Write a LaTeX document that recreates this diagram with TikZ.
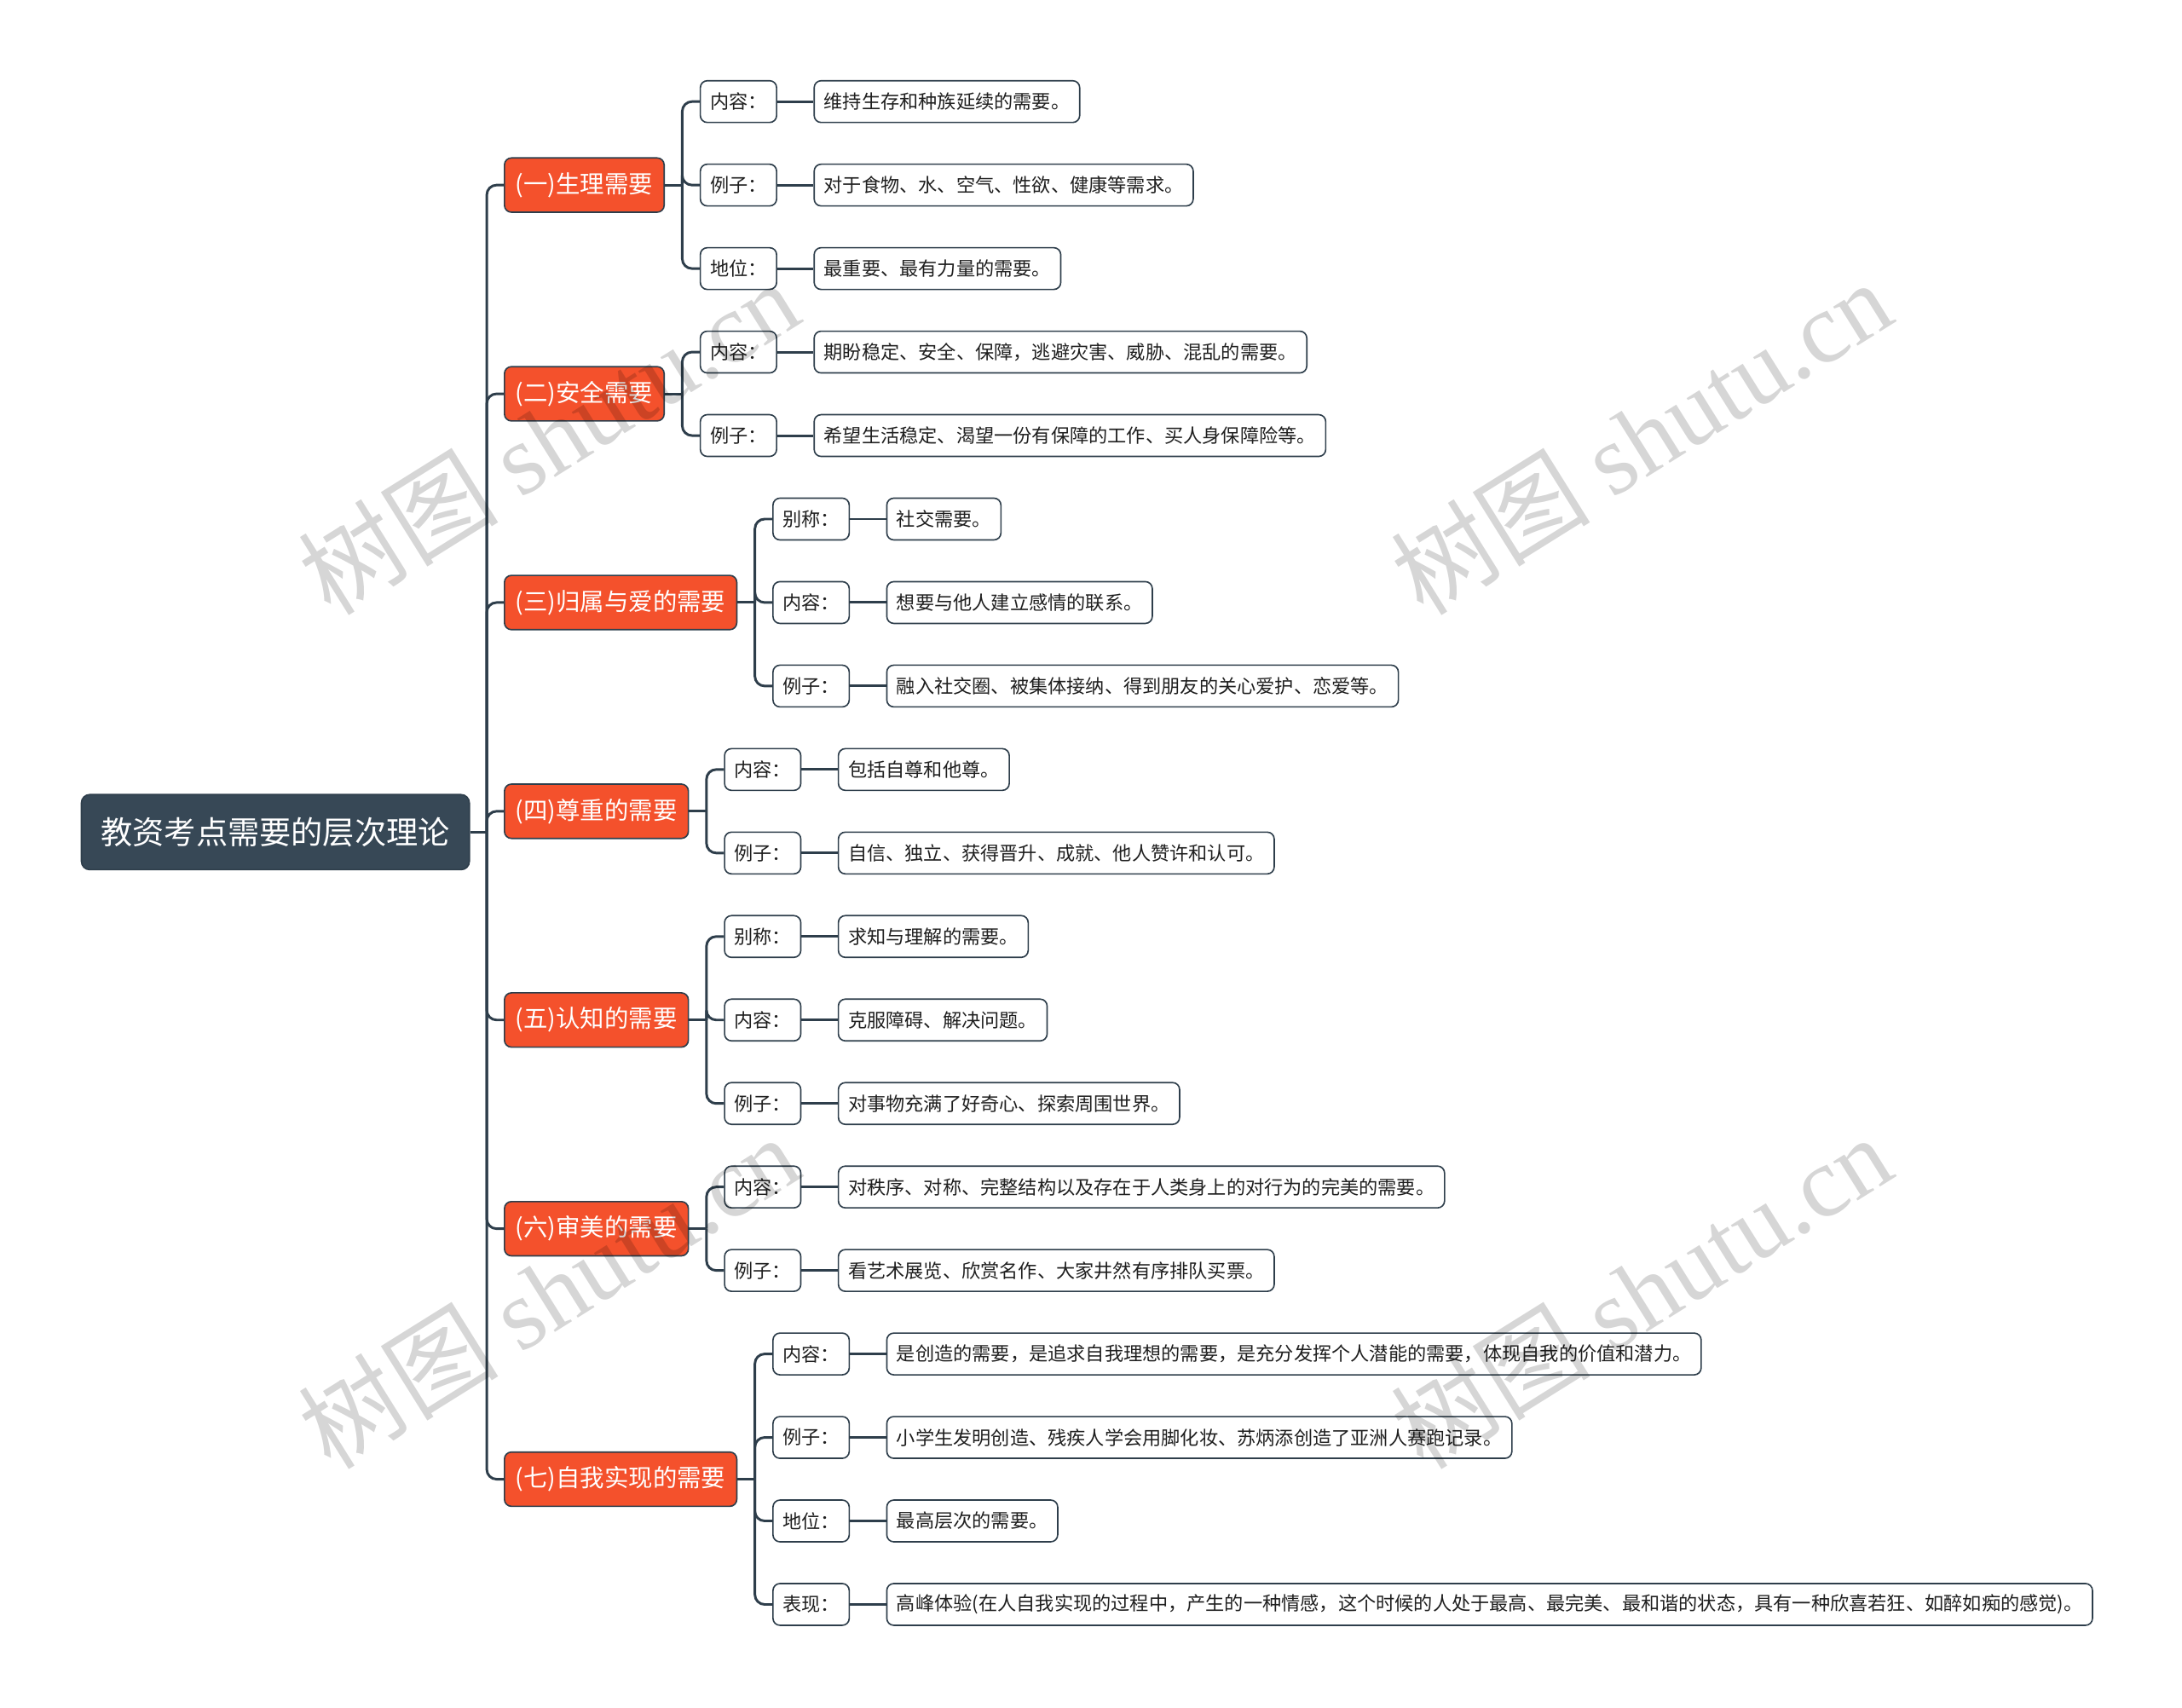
\documentclass[tikz,border=0pt]{standalone}
\usepackage{fontspec}
\setmainfont{Noto Sans CJK SC}
\newfontfamily\wmlatin{Liberation Serif}
\usetikzlibrary{calc}
\definecolor{orangeA}{HTML}{F4512C}
\definecolor{rootA}{HTML}{374856}
\definecolor{lineA}{HTML}{2E3E4B}
\tikzset{
  rootbox/.style={draw=lineA, fill=rootA, rounded corners=6, text=white, font=\fontsize{22.8}{26}\selectfont, minimum height=54, inner xsep=14, anchor=west, line width=1},
  lvone/.style={draw=lineA, fill=orangeA, rounded corners=5, text=white, font=\fontsize{17.4}{20}\selectfont, minimum height=39, inner xsep=8, anchor=west, line width=1},
  lbl/.style={draw=lineA, fill=white, rounded corners=5, text=black!88, font=\fontsize{13.6}{16}\selectfont, minimum height=30, inner xsep=7, anchor=west, line width=1},
  conn/.style={draw=lineA, line width=1.8},
  elbow/.style={conn, rounded corners=7},
  wmark/.style={rotate=32, text=black, text opacity=0.16, font=\fontsize{72}{76}\selectfont},
}
\begin{document}
\begin{tikzpicture}[x=1pt,y=-1pt]
\useasboundingbox (0,0) rectangle (1568,1227);
% root
\node[rootbox] (root) at (58,598) {教资考点需要的层次理论};
\coordinate (trunk) at ($(root.east)+(12,0)$);
% level one
\node[lvone] (g1) at (362,133) {(一)生理需要};
\node[lvone] (g2) at (362,283) {(二)安全需要};
\node[lvone] (g3) at (362,433) {(三)归属与爱的需要};
\node[lvone] (g4) at (362,583) {(四)尊重的需要};
\node[lvone] (g5) at (362,733) {(五)认知的需要};
\node[lvone] (g6) at (362,883) {(六)审美的需要};
\node[lvone] (g7) at (362,1063) {(七)自我实现的需要};
\draw[conn] (root.east) -- (trunk);
\foreach \g in {g1,g2,g3,g4,g5,g6,g7}{\draw[elbow] (trunk) |- (\g.west);}
% group 1
\node[lbl] (l11) at ($(g1.east)+(25,-60)$) {内容：};
\node[lbl] (l12) at ($(g1.east)+(25,0)$) {例子：};
\node[lbl] (l13) at ($(g1.east)+(25,60)$) {地位：};
\node[lbl] (v11) at ($(l11.east)+(26,0)$) {维持生存和种族延续的需要。};
\node[lbl] (v12) at ($(l12.east)+(26,0)$) {对于食物、水、空气、性欲、健康等需求。};
\node[lbl] (v13) at ($(l13.east)+(26,0)$) {最重要、最有力量的需要。};
% group 2
\node[lbl] (l21) at ($(g2.east)+(25,-30)$) {内容：};
\node[lbl] (l22) at ($(g2.east)+(25,30)$) {例子：};
\node[lbl] (v21) at ($(l21.east)+(26,0)$) {期盼稳定、安全、保障，逃避灾害、威胁、混乱的需要。};
\node[lbl] (v22) at ($(l22.east)+(26,0)$) {希望生活稳定、渴望一份有保障的工作、买人身保障险等。};
% group 3
\node[lbl] (l31) at ($(g3.east)+(25,-60)$) {别称：};
\node[lbl] (l32) at ($(g3.east)+(25,0)$) {内容：};
\node[lbl] (l33) at ($(g3.east)+(25,60)$) {例子：};
\node[lbl] (v31) at ($(l31.east)+(26,0)$) {社交需要。};
\node[lbl] (v32) at ($(l32.east)+(26,0)$) {想要与他人建立感情的联系。};
\node[lbl] (v33) at ($(l33.east)+(26,0)$) {融入社交圈、被集体接纳、得到朋友的关心爱护、恋爱等。};
% group 4
\node[lbl] (l41) at ($(g4.east)+(25,-30)$) {内容：};
\node[lbl] (l42) at ($(g4.east)+(25,30)$) {例子：};
\node[lbl] (v41) at ($(l41.east)+(26,0)$) {包括自尊和他尊。};
\node[lbl] (v42) at ($(l42.east)+(26,0)$) {自信、独立、获得晋升、成就、他人赞许和认可。};
% group 5
\node[lbl] (l51) at ($(g5.east)+(25,-60)$) {别称：};
\node[lbl] (l52) at ($(g5.east)+(25,0)$) {内容：};
\node[lbl] (l53) at ($(g5.east)+(25,60)$) {例子：};
\node[lbl] (v51) at ($(l51.east)+(26,0)$) {求知与理解的需要。};
\node[lbl] (v52) at ($(l52.east)+(26,0)$) {克服障碍、解决问题。};
\node[lbl] (v53) at ($(l53.east)+(26,0)$) {对事物充满了好奇心、探索周围世界。};
% group 6
\node[lbl] (l61) at ($(g6.east)+(25,-30)$) {内容：};
\node[lbl] (l62) at ($(g6.east)+(25,30)$) {例子：};
\node[lbl] (v61) at ($(l61.east)+(26,0)$) {对秩序、对称、完整结构以及存在于人类身上的对行为的完美的需要。};
\node[lbl] (v62) at ($(l62.east)+(26,0)$) {看艺术展览、欣赏名作、大家井然有序排队买票。};
% group 7
\node[lbl] (l71) at ($(g7.east)+(25,-90)$) {内容：};
\node[lbl] (l72) at ($(g7.east)+(25,-30)$) {例子：};
\node[lbl] (l73) at ($(g7.east)+(25,30)$) {地位：};
\node[lbl] (l74) at ($(g7.east)+(25,90)$) {表现：};
\node[lbl] (v71) at ($(l71.east)+(26,0)$) {是创造的需要，是追求自我理想的需要，是充分发挥个人潜能的需要，体现自我的价值和潜力。};
\node[lbl] (v72) at ($(l72.east)+(26,0)$) {小学生发明创造、残疾人学会用脚化妆、苏炳添创造了亚洲人赛跑记录。};
\node[lbl] (v73) at ($(l73.east)+(26,0)$) {最高层次的需要。};
\node[lbl] (v74) at ($(l74.east)+(26,0)$) {高峰体验(在人自我实现的过程中，产生的一种情感，这个时候的人处于最高、最完美、最和谐的状态，具有一种欣喜若狂、如醉如痴的感觉)。};
% connectors from level one
\foreach \g in {g1,g2,g3,g4,g5,g6,g7}{
  \coordinate (j\g) at ($(\g.east)+(12.5,0)$);
  \draw[conn] (\g.east) -- (j\g);
}
\foreach \n/\k in {1/3,2/2,3/3,4/2,5/3,6/2,7/4}{
  \foreach \i in {1,...,\k}{
    \draw[elbow] (jg\n) |- (l\n\i.west);
    \draw[conn] (l\n\i.east) -- (v\n\i.west);
  }
}
% watermarks
\node[wmark] (w1) at (394,314) {树图 {\wmlatin shutu.cn}};
\node[wmark] (w2) at (1179,314) {树图 {\wmlatin shutu.cn}};
\node[wmark] (w3) at (394,928) {树图 {\wmlatin shutu.cn}};
\node[wmark] (w4) at (1179,928) {树图 {\wmlatin shutu.cn}};
\end{tikzpicture}
\end{document}
